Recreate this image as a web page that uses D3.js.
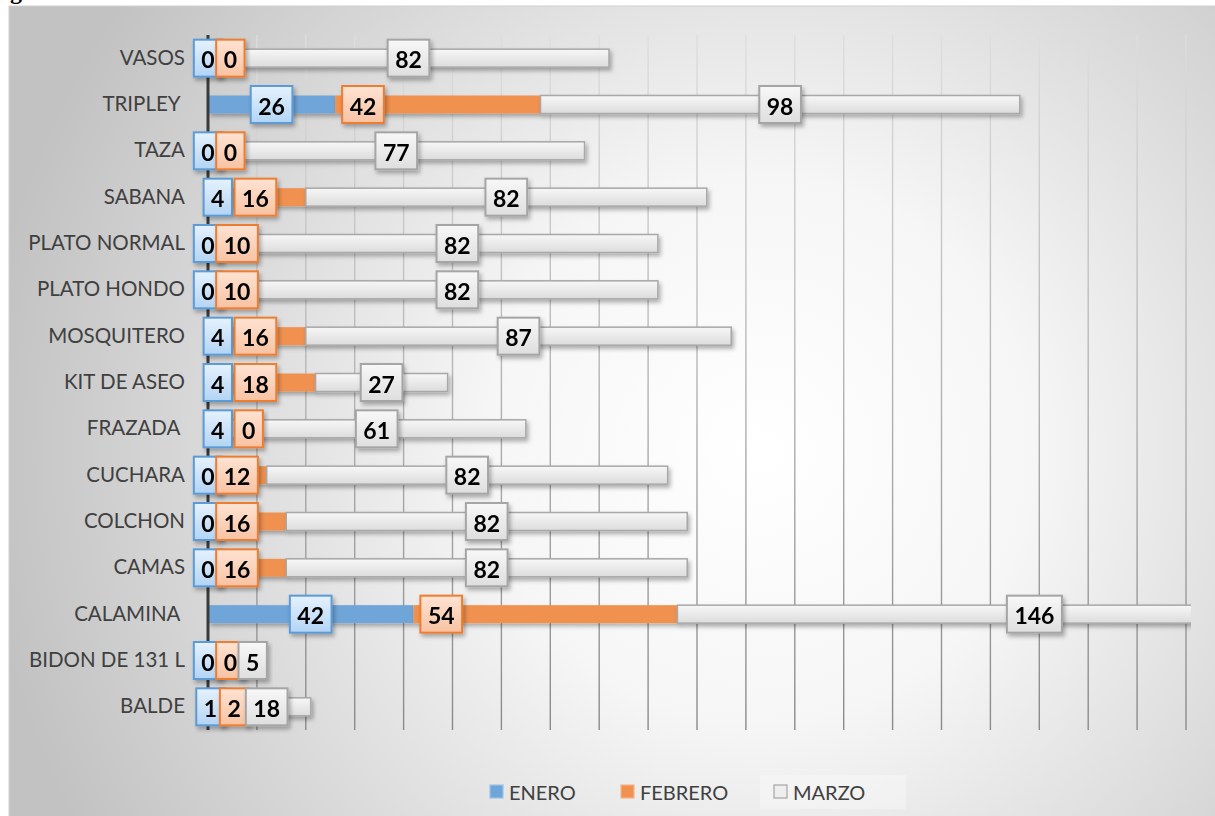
<!DOCTYPE html>
<html>
<head>
<meta charset="utf-8">
<script src="https://cdn.jsdelivr.net/npm/d3@7"></script>
<style>
  html, body { margin: 0; padding: 0; background: #fff; }
  svg { display: block; }
</style>
</head>
<body>
<script>
// categories, top to bottom
const categories = ['VASOS', 'TRIPLEY ', 'TAZA', 'SABANA', 'PLATO NORMAL', 'PLATO HONDO',
  'MOSQUITERO', 'KIT DE ASEO', 'FRAZADA ', 'CUCHARA', 'COLCHON', 'CAMAS', 'CALAMINA ',
  'BIDON DE 131 L', 'BALDE'];
const enero   = [0, 26, 0, 4, 0, 0, 4, 4, 4, 0, 0, 0, 42, 0, 1];
const febrero = [0, 42, 0, 16, 10, 10, 16, 18, 0, 12, 16, 16, 54, 0, 2];
const marzo   = [82, 98, 77, 82, 82, 82, 87, 27, 61, 82, 82, 82, 146, 5, 18];
const seriesNames = ['ENERO', 'FEBRERO', 'MARZO'];
const xTicks = d3.range(0, 201, 10);

const W = 1215, H = 816;
const margin = { left: 208, right: 27, top: 35, bottom: 86 };

const svg = d3.select('body').append('svg').attr('width', W).attr('height', H);
const defs = svg.append('defs');

// background gradient
const bg = defs.append('radialGradient').attr('id', 'bg')
  .attr('gradientUnits', 'userSpaceOnUse')
  .attr('cx', 760).attr('cy', 450).attr('r', 780);
bg.append('stop').attr('offset', '0%').attr('stop-color', '#ffffff');
bg.append('stop').attr('offset', '35%').attr('stop-color', '#f6f6f6');
bg.append('stop').attr('offset', '100%').attr('stop-color', '#c2c2c2');

const grid = defs.append('linearGradient').attr('id', 'grid')
  .attr('gradientUnits', 'userSpaceOnUse')
  .attr('x1', 0).attr('y1', margin.top).attr('x2', 0).attr('y2', H - margin.bottom);
grid.append('stop').attr('offset', '0%').attr('stop-color', '#dedede');
grid.append('stop').attr('offset', '100%').attr('stop-color', '#8a8a8a');

function vgrad(id, a, b) {
  const g = defs.append('linearGradient').attr('id', id)
    .attr('x1', 0).attr('y1', 0).attr('x2', 0).attr('y2', 1);
  g.append('stop').attr('offset', '0%').attr('stop-color', a);
  g.append('stop').attr('offset', '100%').attr('stop-color', b);
}
vgrad('grayBar', '#f7f7f7', '#dcdcdc');
vgrad('boxBlue', '#e6f2fd', '#b3d4f5');
vgrad('boxOrange', '#fee3d3', '#f8c2a2');
vgrad('boxGray', '#f8f8f8', '#dedede');

const shadow = defs.append('filter').attr('id', 'shadow')
  .attr('x', '-20%').attr('y', '-40%').attr('width', '140%').attr('height', '180%');
shadow.append('feDropShadow').attr('dx', 2).attr('dy', 3)
  .attr('stdDeviation', 2).attr('flood-color', '#000').attr('flood-opacity', 0.3);

defs.append('clipPath').attr('id', 'plotClip').append('rect')
  .attr('x', margin.left).attr('y', 0).attr('width', W - margin.right - margin.left + 3).attr('height', H);

// caption fragment above chart (cut off in the source image too)
svg.append('text').attr('x', 10).attr('y', -1)
  .attr('font-family', 'Liberation Serif').attr('font-size', 24).attr('font-weight', 'bold')
  .attr('fill', '#000').text('g');

svg.append('rect').attr('x', 9).attr('y', 6).attr('width', W + 5).attr('height', H + 5)
  .attr('fill', 'url(#bg)').attr('stroke', '#cfcfcf').attr('stroke-width', 1);

// scales
const x = d3.scaleLinear().domain([0, 200]).range([margin.left, W - margin.right - 2]);
const y = d3.scaleBand().domain(categories).range([margin.top, H - margin.bottom]);
const barH = 18;

// gridlines
svg.append('g').selectAll('line').data(xTicks.slice(1)).join('line')
  .attr('x1', d => x(d)).attr('x2', d => x(d))
  .attr('y1', margin.top).attr('y2', H - margin.bottom)
  .attr('stroke', 'url(#grid)').attr('stroke-width', 1.4);

// stacked data
const rows = categories.map((c, i) => ({ cat: c, ENERO: enero[i], FEBRERO: febrero[i], MARZO: marzo[i] }));
const stack = d3.stack().keys(seriesNames)(rows);

const barStyle = {
  ENERO: { fill: '#6fa5d9', stroke: 'none' },
  FEBRERO: { fill: '#f0914f', stroke: 'none' },
  MARZO: { fill: 'url(#grayBar)', stroke: '#a8a8a8' }
};
const boxStyle = {
  ENERO: { fill: 'url(#boxBlue)', stroke: '#5b9bd5' },
  FEBRERO: { fill: 'url(#boxOrange)', stroke: '#ed7d31' },
  MARZO: { fill: 'url(#boxGray)', stroke: '#a5a5a5' }
};

const bars = svg.append('g').attr('clip-path', 'url(#plotClip)');
stack.forEach(layer => {
  const st = barStyle[layer.key];
  bars.append('g').attr('filter', 'url(#shadow)').selectAll('rect').data(layer).join('rect')
    .attr('x', d => x(d[0]))
    .attr('y', d => y(d.data.cat) + y.bandwidth() / 2 - barH / 2)
    .attr('width', d => Math.max(0, x(d[1]) - x(d[0])))
    .attr('height', barH)
    .attr('fill', st.fill)
    .attr('stroke', st.stroke)
    .attr('stroke-width', 1.5);
});

// axis line
svg.append('line').attr('x1', x(0)).attr('x2', x(0))
  .attr('y1', margin.top).attr('y2', H - margin.bottom)
  .attr('stroke', '#3a3a3a').attr('stroke-width', 3);

// category labels
const yAxis = svg.append('g').attr('transform', `translate(${margin.left - 23},0)`)
  .call(d3.axisLeft(y).tickSize(0).tickPadding(0));
yAxis.select('.domain').remove();
yAxis.selectAll('text')
  .attr('font-family', 'Lato, "Open Sans", sans-serif')
  .attr('font-size', 20.5).attr('fill', '#404040')
  .style('white-space', 'pre');

// data labels
const labels = svg.append('g').attr('font-family', 'Lato, sans-serif')
  .attr('font-weight', 'bold').attr('font-size', 23);
const boxH = 37, padX = 7.5;
const lastRight = categories.map(() => -Infinity);
stack.forEach(layer => {
  const st = boxStyle[layer.key];
  layer.forEach((d, i) => {
    const cy = y(d.data.cat) + y.bandwidth() / 2;
    const g = labels.append('g').attr('filter', 'url(#shadow)');
    const rect = g.append('rect');
    const t = g.append('text').attr('fill', '#000').attr('text-anchor', 'middle')
      .attr('dominant-baseline', 'central').text(d[1] - d[0]);
    const w = t.node().getComputedTextLength() + padX * 2;
    let left;
    if (layer.key === 'FEBRERO') left = x(d[0]) + 7;
    else left = (x(d[0]) + x(d[1])) / 2 - w / 2;
    left = Math.max(left, lastRight[i] - 6);
    lastRight[i] = left + w;
    rect.attr('x', left).attr('y', cy - boxH / 2).attr('width', w).attr('height', boxH)
      .attr('fill', st.fill).attr('stroke', st.stroke).attr('stroke-width', 2);
    t.attr('x', left + w / 2).attr('y', cy + 1);
  });
});

// legend
const legendItems = [
  { name: 'ENERO', x: 490, fill: '#6fa5d9', stroke: '#9cc3e8' },
  { name: 'FEBRERO', x: 621, fill: '#f0914f', stroke: '#f5b58a' },
  { name: 'MARZO', x: 774, fill: '#eeeeee', stroke: '#a5a5a5' }
];
svg.append('rect').attr('x', 760).attr('y', 775).attr('width', 146).attr('height', 34)
  .attr('fill', '#ffffff').attr('opacity', 0.3);
const lg = svg.append('g').selectAll('g').data(legendItems).join('g')
  .attr('transform', d => `translate(${d.x},785)`);
lg.append('rect').attr('width', 13).attr('height', 13)
  .attr('fill', d => d.fill).attr('stroke', d => d.stroke).attr('stroke-width', 1.2);
lg.append('text').attr('x', 19).attr('y', 7).attr('dominant-baseline', 'central')
  .attr('font-family', 'Lato, sans-serif').attr('font-size', 20).attr('fill', '#404040')
  .text(d => d.name);
</script>
</body>
</html>
